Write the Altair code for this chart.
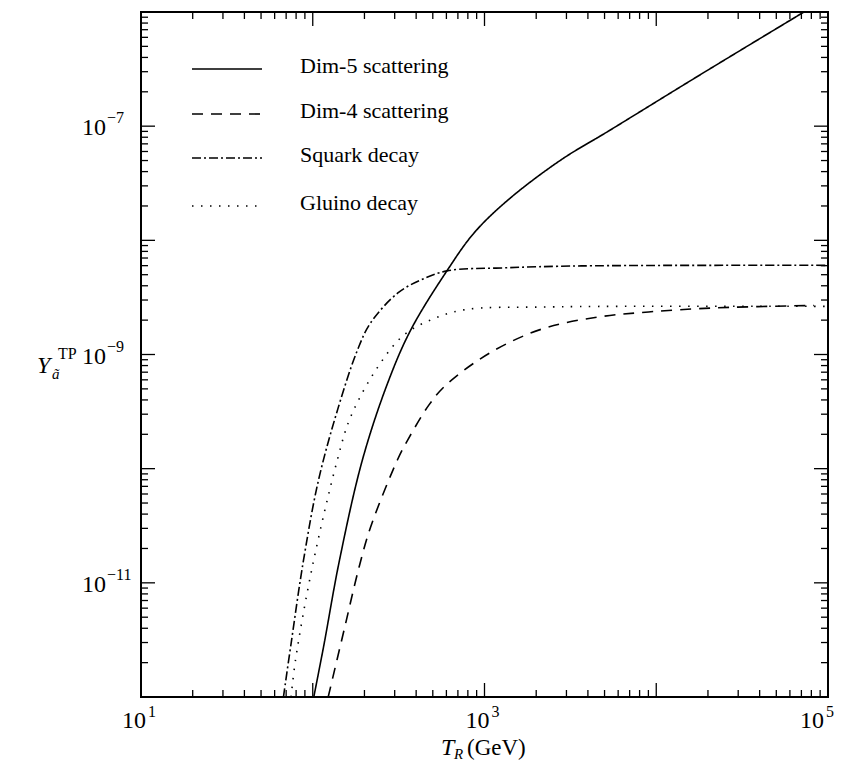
import altair as alt
import pandas as pd

FONT = "Liberation Serif"
W, H = 687, 685

series_names = ["Dim-5 scattering", "Dim-4 scattering", "Squark decay", "Gluino decay"]
series_dash = [[1, 0], [11, 8], [9, 3, 2, 3], [1.5, 7.5]]

dim5_T = [101.4, 116, 143, 194.5, 273, 372, 604, 869, 1372, 2797, 5263, 18370, 72400, 100000]
dim5_Y = [1e-12, 2.83e-12, 1.57e-11, 1.19e-10, 5.62e-10, 1.64e-9, 5.4e-9, 1.16e-8,
          2.26e-8, 5.08e-8, 9.04e-8, 2.87e-7, 1.0e-6, 1.34e-6]

dim4_T = [123, 152, 186, 217, 311, 357, 474, 580, 869, 1372, 2350, 4600, 9020, 21900, 82800]
dim4_Y = [1e-12, 3.83e-12, 1.37e-11, 3.07e-11, 1.19e-10, 1.78e-10, 3.6e-10, 5.19e-10, 8.42e-10,
          1.26e-9, 1.74e-9, 2.13e-9, 2.36e-9, 2.56e-9, 2.69e-9]

squark_T = [67.5, 74.8, 88.3, 108, 141, 182, 217, 313, 426, 604, 1300, 3656, 100000]
squark_Y = [1e-12, 2.94e-12, 1.57e-11, 7.93e-11, 3.46e-10, 1.09e-9, 1.89e-9, 3.46e-9, 4.5e-9,
            5.4e-9, 5.74e-9, 5.97e-9, 6.04e-9]

gluino_T = [74.8, 79.3, 99.3, 139, 166, 239, 339, 487, 759, 2350, 100000]
gluino_Y = [1e-12, 2.09e-12, 1.37e-11, 1.19e-10, 2.83e-10, 7.76e-10, 1.48e-9, 2.01e-9, 2.46e-9,
            2.61e-9, 2.64e-9]

x_label_vals = [10, 1000, 100000]
x_label_exps = ["1", "3", "5"]
y_label_vals = [1e-7, 1e-9, 1e-11]
y_label_exps = ["\u22127", "\u22129", "\u221211"]

x_major = [10.0 ** d for d in range(1, 6)]
x_minor = [m * 10.0 ** d for d in range(1, 5) for m in range(2, 10)]
y_major = [10.0 ** d for d in range(-12, -5)]
y_minor = [m * 10.0 ** d for d in range(-12, -6) for m in range(2, 10)]

xs = alt.Scale(type="log", domain=[10, 100000], nice=False)
ys = alt.Scale(type="log", domain=[1e-12, 1e-6], nice=False)

rows = []
for name, T, Y in [(series_names[0], dim5_T, dim5_Y), (series_names[1], dim4_T, dim4_Y),
                   (series_names[2], squark_T, squark_Y), (series_names[3], gluino_T, gluino_Y)]:
    for t, y in zip(T, Y):
        rows.append({"series": name, "T": t, "Y": y})
curves_df = pd.DataFrame(rows)

dash_scale = alt.Scale(domain=series_names, range=series_dash)

curves = alt.Chart(curves_df).mark_line(
    color="black", strokeWidth=1.6, clip=True, interpolate="catmull-rom", strokeCap="butt"
).encode(
    x=alt.X("T:Q", scale=xs, axis=None),
    y=alt.Y("Y:Q", scale=ys, axis=None),
    strokeDash=alt.StrokeDash("series:N", scale=dash_scale, legend=None),
    detail="series:N",
)

layers = [curves]

# inward ticks on all four sides
def xticks(vals, L):
    df = pd.DataFrame({"v": vals})
    base = alt.Chart(df).mark_rule(color="black", strokeWidth=1.3)
    bot = base.encode(x=alt.X("v:Q", scale=xs, axis=None), y=alt.value(H), y2=alt.value(H - L))
    top = base.encode(x=alt.X("v:Q", scale=xs, axis=None), y=alt.value(0), y2=alt.value(L))
    return [bot, top]

def yticks(vals, L):
    df = pd.DataFrame({"v": vals})
    base = alt.Chart(df).mark_rule(color="black", strokeWidth=1.3)
    left = base.encode(y=alt.Y("v:Q", scale=ys, axis=None), x=alt.value(0), x2=alt.value(L))
    right = base.encode(y=alt.Y("v:Q", scale=ys, axis=None), x=alt.value(W), x2=alt.value(W - L))
    return [left, right]

layers += xticks(x_major, 14) + xticks(x_minor, 7) + yticks(y_major, 14) + yticks(y_minor, 7)

# tick labels (x): the last one is nudged left so it stays inside the page
xl = pd.DataFrame({"T": x_label_vals, "base": ["10"] * 3, "exp": x_label_exps})
for sub, shift in [(xl.iloc[:2], 0), (xl.iloc[2:], -9)]:
    layers.append(alt.Chart(sub).mark_text(align="right", baseline="alphabetic", font=FONT,
                                           fontSize=24, dx=5 + shift).encode(
        x=alt.X("T:Q", scale=xs, axis=None), y=alt.value(716), text="base:N"))
    layers.append(alt.Chart(sub).mark_text(align="left", baseline="alphabetic", font=FONT,
                                           fontSize=16, dx=7 + shift).encode(
        x=alt.X("T:Q", scale=xs, axis=None), y=alt.value(705), text="exp:N"))

yl = pd.DataFrame({"Y": y_label_vals, "base": ["10"] * 3, "exp": y_label_exps})
layers.append(alt.Chart(yl).mark_text(align="right", baseline="middle", font=FONT,
                                      fontSize=24, dy=2).encode(
    y=alt.Y("Y:Q", scale=ys, axis=None), x=alt.value(-35), text="base:N"))
layers.append(alt.Chart(yl).mark_text(align="left", baseline="middle", font=FONT,
                                      fontSize=16, dy=-8).encode(
    y=alt.Y("Y:Q", scale=ys, axis=None), x=alt.value(-34), text="exp:N"))

# axis titles
def txt(s, x, y, size, style="normal", align="left"):
    return alt.Chart(pd.DataFrame({"s": [s]})).mark_text(
        align=align, baseline="alphabetic", font=FONT, fontSize=size, fontStyle=style
    ).encode(x=alt.value(x), y=alt.value(y), text="s:N")

layers += [
    txt("T", 300, 743, 24, "italic"),
    txt("R", 313, 747, 15, "italic"),
    txt("(GeV)", 326, 743, 23),
    txt("Y", -104, 361, 24, "italic"),
    txt("\u00e3", -89, 367, 15, "italic"),
    txt("TP", -83, 347, 16),
]

# legend
legend_rows = [57, 102, 146, 194]
for name, dash, ry in zip(series_names, series_dash, legend_rows):
    layers.append(alt.Chart(pd.DataFrame({"s": [name]})).mark_rule(
        color="black", strokeWidth=1.6, strokeDash=dash, strokeCap="butt").encode(
        x=alt.value(51), x2=alt.value(121), y=alt.value(ry)))
    layers.append(alt.Chart(pd.DataFrame({"s": [name]})).mark_text(
        align="left", baseline="middle", font=FONT, fontSize=22).encode(
        x=alt.value(159), y=alt.value(ry - 3), text="s:N"))

chart = alt.layer(*layers).properties(
    width=W, height=H,
    padding={"left": 133, "top": 4, "right": 7, "bottom": 66},
    autosize=alt.AutoSizeParams(type="none"),
).configure_view(stroke="black", strokeWidth=2)

chart.save("out.html", embed_options={"renderer": "svg", "actions": False})
